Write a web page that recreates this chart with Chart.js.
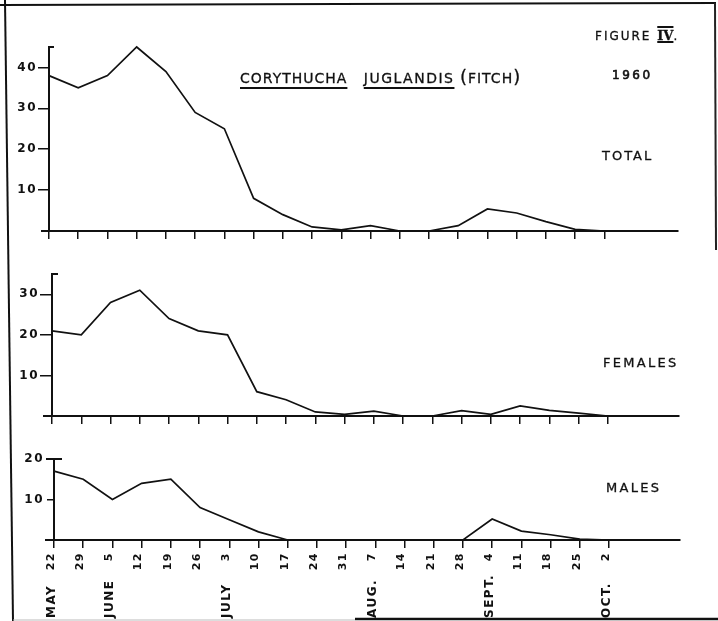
<!DOCTYPE html>
<html>
<head>
<meta charset="utf-8">
<script src="https://cdn.jsdelivr.net/npm/chart.js@4.4.1/dist/chart.umd.min.js"></script>
<style>
  html, body { margin: 0; padding: 0; background: #fff; }
  #page { position: relative; width: 718px; height: 621px; overflow: hidden; background: #fff;
          font-family: "DejaVu Sans", sans-serif; color: #111; }
  #page canvas { position: absolute; left: 0; }
  .lbl { position: absolute; white-space: nowrap; line-height: 1; -webkit-text-stroke: 0.3px #111; }
  .ul { text-decoration: underline; text-decoration-thickness: 2px; text-underline-offset: 4px; }
  .roman { font-family: "DejaVu Serif", serif; font-weight: bold; text-decoration: underline overline; text-decoration-thickness: 2px; }
</style>
</head>
<body>
<div id="page">
  <svg width="718" height="621" style="position:absolute;left:0;top:0">
    <line x1="5" y1="0" x2="13" y2="621" stroke="#111" stroke-width="2"/>
    <line x1="0" y1="5" x2="716" y2="3" stroke="#111" stroke-width="2"/>
    <line x1="715" y1="3" x2="716" y2="250" stroke="#222" stroke-width="2"/>
    <line x1="13" y1="620" x2="355" y2="620" stroke="#bbb" stroke-width="1"/>
    <line x1="355" y1="619" x2="718" y2="619" stroke="#111" stroke-width="2.5"/>
  </svg>

  <canvas id="cTotal" width="718" height="250" style="top:0"></canvas>
  <canvas id="cFem" width="718" height="180" style="top:250px"></canvas>
  <canvas id="cMale" width="718" height="191" style="top:430px"></canvas>

  <div class="lbl" style="left:595px;top:28.5px;font-size:12px;letter-spacing:2px">FIGURE <span class="roman" style="font-size:13px;letter-spacing:0">IV</span>.</div>
  <div class="lbl" style="left:240px;top:68.4px;font-size:14px;letter-spacing:1px"><span class="ul">CORYTHUCHA</span>&nbsp;&nbsp; <span class="ul" style="letter-spacing:1.5px">JUGLANDIS</span> <span style="font-size:18px">(</span>FITCH<span style="font-size:18px">)</span></div>
  <div class="lbl" style="left:612px;top:68.5px;font-size:12px;letter-spacing:2.5px;-webkit-text-stroke:0.6px #111">1960</div>
  <div class="lbl" style="left:602px;top:148.5px;font-size:13px;letter-spacing:2px">TOTAL</div>
  <div class="lbl" style="left:603px;top:355.5px;font-size:13px;letter-spacing:2.3px">FEMALES</div>
  <div class="lbl" style="left:606px;top:480.5px;font-size:13px;letter-spacing:2.3px">MALES</div>
</div>

<script>
// weekly sampling dates, 1960
const dayLabels = ['22', '29', '5', '12', '19', '26', '3', '10', '17', '24', '31', '7', '14', '21', '28', '4', '11', '18', '25', '2'];
const monthNames = ['MAY', 'JUNE', 'JULY', 'AUG.', 'SEPT.', 'OCT.'];
const monthAt = [0, 2, 6, 11, 15, 19];

const total = [38, 35, 38, 45, 39, 29, 25, 8, 4, 1, 0.3, 1.3, 0, 0, 1.3, 5.4, 4.4, 2.3, 0.4, 0];
const females = [21, 20, 28, 31, 24, 21, 20, 6, 4, 1, 0.4, 1.2, 0, 0, 1.3, 0.4, 2.5, 1.4, 0.7, 0];
const males = [17, 15, 10, 14, 15, 8, 5, 2, 0, 0, 0, 0, 0, 0, 0, 5.2, 2.2, 1.3, 0.2, 0];

const totalTicks = [10, 20, 30, 40];
const femaleTicks = [10, 20, 30];
const maleTicks = [10, 20];

const INK = '#111';
Chart.defaults.font.family = '"DejaVu Sans", sans-serif';
Chart.defaults.color = INK;

const axisExtras = {
  id: 'axisExtras',
  beforeDraw(chart) {
    chart.ctx.letterSpacing = '1.5px';
  },
  afterDraw(chart, args, o) {
    const { ctx, chartArea: a } = chart;
    ctx.save();
    ctx.strokeStyle = INK;
    ctx.lineWidth = 2;
    ctx.beginPath();
    ctx.moveTo(a.left - o.capLeft, a.top);
    ctx.lineTo(a.left + o.capRight, a.top);
    ctx.moveTo(a.left - o.stub, a.bottom);
    ctx.lineTo(a.left, a.bottom);
    ctx.stroke();

    if (o.months) {
      const x = chart.scales.x;
      ctx.font = 'bold 12px "DejaVu Sans"';
      ctx.letterSpacing = '1.5px';
      ctx.fillStyle = INK;
      ctx.textAlign = 'left';
      ctx.textBaseline = 'alphabetic';
      monthAt.forEach((idx, k) => {
        ctx.save();
        ctx.translate(x.getPixelForValue(idx) + 1, o.monthBase);
        ctx.rotate(-Math.PI / 2);
        ctx.fillText(monthNames[k], 0, 0);
        ctx.restore();
      });
    }
    ctx.restore();
  }
};

function makePanel(id, values, p) {
  const ctx = document.getElementById(id).getContext('2d');
  return new Chart(ctx, {
    type: 'line',
    data: {
      datasets: [{
        data: values.map((v, i) => ({ x: i, y: v })),
        borderColor: INK,
        borderWidth: 1.7,
        pointRadius: 0,
        tension: 0,
        fill: false,
        clip: false
      }]
    },
    options: {
      responsive: false,
      animation: false,
      devicePixelRatio: 1,
      layout: { padding: { top: p.padTop, right: 718 - p.right, left: 0, bottom: 0 } },
      plugins: {
        legend: { display: false },
        tooltip: { enabled: false },
        axisExtras: { capLeft: p.capLeft, capRight: p.capRight, stub: p.stub, months: p.showDays, monthBase: p.monthBase }
      },
      scales: {
        x: {
          type: 'linear',
          min: 0,
          max: p.xMax,
          afterFit: s => { s.height = p.xHeight; },
          afterBuildTicks: s => { s.ticks = dayLabels.map((_, i) => ({ value: i })); },
          grid: { drawOnChartArea: false, tickLength: 8, color: INK, lineWidth: 1.5 },
          border: { color: INK, width: 2 },
          ticks: {
            display: p.showDays,
            autoSkip: false,
            minRotation: 90,
            maxRotation: 90,
            padding: 4,
            labelOffset: -3,
            font: { size: 11, weight: 'bold' },
            callback: v => dayLabels[v]
          }
        },
        y: {
          min: 0,
          max: p.yMax,
          afterFit: s => { s.width = p.left; },
          afterBuildTicks: s => { s.ticks = p.yTicks.map(v => ({ value: v })); },
          grid: { drawOnChartArea: false, tickLength: p.tickLen, color: INK, lineWidth: 1.5 },
          border: { color: INK, width: 2 },
          ticks: { padding: p.tickPad, font: { size: 12, weight: 'bold' } }
        }
      }
    },
    plugins: [axisExtras]
  });
}

makePanel('cTotal', total, {
  left: 49, right: 678, xMax: 21.52, yMax: 45, yTicks: totalTicks,
  padTop: 47, xHeight: 19, tickLen: 11, tickPad: 1,
  capLeft: 0, capRight: 5, stub: 8, showDays: false
});

makePanel('cFem', females, {
  left: 52, right: 679, xMax: 21.43, yMax: 35, yTicks: femaleTicks,
  padTop: 24, xHeight: 14, tickLen: 12, tickPad: 1,
  capLeft: 0, capRight: 6, stub: 9, showDays: false
});

makePanel('cMale', males, {
  left: 54, right: 680, xMax: 21.43, yMax: 20, yTicks: maleTicks,
  padTop: 29, xHeight: 81, tickLen: 7, tickPad: 3,
  capLeft: 8, capRight: 8, stub: 9, showDays: true, monthBase: 188
});
</script>
</body>
</html>
